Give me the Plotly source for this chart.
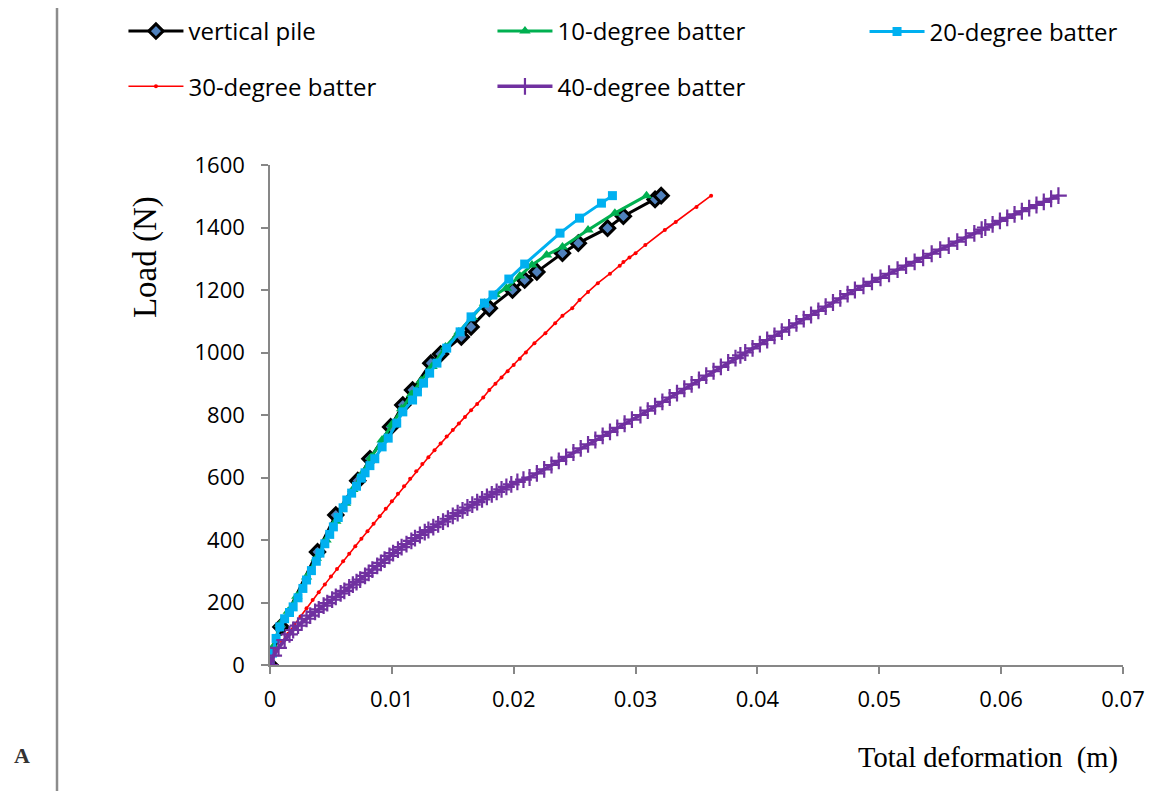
import plotly.graph_objects as go

# ---- data ----
vp_x = [0, 0.0009, 0.0039, 0.0054, 0.0072, 0.0082, 0.0099, 0.0109, 0.0117, 0.0132, 0.014, 0.0157,
        0.0165, 0.018, 0.0199, 0.0209, 0.0219, 0.024, 0.0253, 0.0277, 0.029, 0.0316, 0.0321]
vp_y = [0, 122, 362, 480, 590, 660, 762, 832, 880, 966, 995, 1050,
        1082, 1142, 1200, 1232, 1258, 1318, 1350, 1398, 1436, 1490, 1502]

b10_x = [0, 0.0003, 0.0008, 0.0015, 0.0022, 0.003, 0.0038, 0.0046, 0.0054, 0.0062, 0.0068, 0.0075,
         0.0083, 0.0092, 0.01, 0.0108, 0.0116, 0.0124, 0.0133, 0.0144, 0.0155, 0.0166, 0.0176, 0.0185,
         0.0194, 0.0205, 0.0215, 0.0227, 0.024, 0.0261, 0.0283, 0.0309]
b10_y = [0, 60, 130, 172, 220, 282, 342, 400, 460, 518, 562, 610,
         665, 720, 770, 820, 866, 910, 955, 1018, 1066, 1112, 1158, 1185,
         1206, 1245, 1280, 1312, 1338, 1392, 1446, 1502]

b20_x = [0, 0.0002, 0.0005, 0.0008, 0.0012, 0.0016, 0.0019, 0.0023, 0.0027, 0.003, 0.0034, 0.0038,
         0.0041, 0.0045, 0.0049, 0.0052, 0.0056, 0.006, 0.0063, 0.0067, 0.0071, 0.0075, 0.0078, 0.0082,
         0.0086, 0.0092, 0.0097, 0.0104, 0.0109, 0.0117, 0.0121, 0.0126, 0.0131, 0.0137, 0.0145, 0.0156,
         0.0165, 0.0176, 0.0183, 0.0196, 0.0209, 0.0238, 0.0254, 0.0272, 0.0281]
b20_y = [0, 38, 85, 122, 148, 168, 186, 215, 245, 272, 302, 332,
         358, 388, 418, 442, 472, 503, 528, 550, 572, 598, 615, 638,
         660, 698, 726, 774, 810, 848, 874, 902, 934, 966, 1014, 1066,
         1114, 1158, 1184, 1235, 1283, 1382, 1430, 1478, 1502]

b30_x = [0, 0.0005, 0.001, 0.0015, 0.002, 0.0025, 0.003, 0.0035, 0.004, 0.0045, 0.005, 0.0055,
         0.006, 0.0065, 0.007, 0.0075, 0.008, 0.0085, 0.009, 0.0095, 0.01, 0.0105, 0.011, 0.0115,
         0.012, 0.0125, 0.013, 0.0135, 0.014, 0.0145, 0.015, 0.0155, 0.016, 0.0165, 0.017, 0.0175,
         0.018, 0.0185, 0.019, 0.0195, 0.02, 0.0205, 0.021, 0.0217, 0.0226, 0.0234, 0.024, 0.0248,
         0.0254, 0.0261, 0.0269, 0.0279, 0.0287, 0.029, 0.0295, 0.03, 0.0308, 0.0324, 0.0333, 0.035, 0.0362]
b30_y = [0, 45, 75, 100, 128, 155, 182, 208, 233, 258, 283, 307,
         332, 356, 380, 404, 428, 452, 476, 500, 524, 548, 572, 596,
         620, 643, 665, 687, 709, 731, 752, 773, 794, 815, 835, 856,
         880, 900, 920, 940, 960, 980, 1000, 1030, 1062, 1094, 1118, 1142,
         1168, 1194, 1222, 1252, 1278, 1290, 1304, 1318, 1344, 1392, 1418, 1466, 1502]

b40_x = [0, 0.0003, 0.0007, 0.0012, 0.0016, 0.0019, 0.0023, 0.0026, 0.003, 0.0033, 0.0037, 0.004,
         0.0044, 0.0047, 0.0051, 0.0054, 0.0058, 0.0061, 0.0065, 0.0068, 0.0071, 0.0074, 0.0078, 0.0081,
         0.0084, 0.0088, 0.0091, 0.0094, 0.0098, 0.0101, 0.0105, 0.0108, 0.0112, 0.0116, 0.0119, 0.0123,
         0.0127, 0.013, 0.0134, 0.0138, 0.0142, 0.0146, 0.015, 0.0154, 0.0158, 0.0162, 0.0166, 0.017,
         0.0174, 0.0178, 0.0182, 0.0186, 0.019, 0.0194, 0.0198, 0.0203, 0.0208, 0.0213,
         0.0219, 0.0225, 0.0231, 0.0237, 0.0243, 0.0249, 0.0255, 0.0261, 0.0267, 0.0273, 0.0279, 0.0285,
         0.0291, 0.0297, 0.0304, 0.031, 0.0316, 0.0322, 0.0328, 0.0334, 0.034, 0.0346, 0.0352, 0.0358,
         0.0364, 0.037, 0.0376, 0.0382, 0.0386, 0.039, 0.0396, 0.0402, 0.0408, 0.0414, 0.042, 0.0426,
         0.0432, 0.0438, 0.0444, 0.045, 0.0456, 0.0462, 0.0468, 0.0474, 0.048, 0.0487, 0.0494, 0.0501,
         0.0508, 0.0515, 0.0522, 0.0529, 0.0536, 0.0543, 0.055, 0.0557, 0.0564, 0.0571, 0.0578, 0.0584,
         0.0587, 0.0593, 0.0599, 0.0605, 0.0611, 0.0617, 0.0623, 0.0629, 0.0635, 0.0641, 0.0647]
b40_y = [0, 30, 55, 80, 98, 112, 126, 136, 148, 158, 170, 178,
         190, 198, 209, 218, 229, 237, 248, 257, 265, 273, 285, 295,
         305, 317, 327, 337, 349, 358, 369, 377, 387, 397, 406, 416,
         425, 432, 441, 450, 459, 468, 477, 486, 495, 504, 513, 521,
         530, 538, 546, 554, 562, 570, 578, 586, 593, 600,
         613, 626, 640, 653, 666, 680, 693, 706, 720, 733, 746, 759,
         772, 785, 800, 814, 828, 842, 856, 870, 884, 898, 912, 926,
         940, 954, 968, 982, 991, 1000, 1013, 1027, 1040, 1053, 1067, 1080,
         1093, 1107, 1120, 1133, 1147, 1160, 1173, 1187, 1200, 1213, 1226, 1239,
         1252, 1265, 1278, 1290, 1303, 1316, 1329, 1342, 1355, 1368, 1381, 1393,
         1400, 1410, 1421, 1431, 1442, 1452, 1462, 1472, 1482, 1492, 1502]

x_ticks = [0, 0.01, 0.02, 0.03, 0.04, 0.05, 0.06, 0.07]
x_tick_text = ["0", "0.01", "0.02", "0.03", "0.04", "0.05", "0.06", "0.07"]
y_ticks = [0, 200, 400, 600, 800, 1000, 1200, 1400, 1600]

AX = "#878787"
TICKFONT = dict(family="Open Sans", size=22, color="#000000")

fig = go.Figure()
fig.add_trace(go.Scatter(x=vp_x, y=vp_y, name="vertical pile", mode="lines+markers",
                         line=dict(color="#000000", width=3),
                         marker=dict(symbol="diamond", size=11, color="#4F81BD",
                                     line=dict(color="#000000", width=3)),
                         legend="legend", legendgroup="g1"))
fig.add_trace(go.Scatter(x=b10_x, y=b10_y, name="10-degree batter", mode="lines+markers",
                         line=dict(color="#00B050", width=3),
                         marker=dict(symbol="triangle-up", size=10, color="#00B050"),
                         legend="legend2", legendgroup="g2"))
fig.add_trace(go.Scatter(x=b20_x, y=b20_y, name="20-degree batter", mode="lines+markers",
                         line=dict(color="#00B0F0", width=3),
                         marker=dict(symbol="square", size=9, color="#00B0F0"),
                         legend="legend3", legendgroup="g3"))
fig.add_trace(go.Scatter(x=b30_x, y=b30_y, name="30-degree batter", mode="lines+markers",
                         line=dict(color="#FF0000", width=1.6),
                         marker=dict(symbol="circle", size=4, color="#FF0000"),
                         legend="legend", legendgroup="g4"))
fig.add_trace(go.Scatter(x=b40_x, y=b40_y, name="40-degree batter", mode="lines+markers",
                         line=dict(color="#7030A0", width=3.5),
                         marker=dict(symbol="cross-thin-open", size=12, color="#7030A0",
                                     line=dict(color="#7030A0", width=2.2)),
                         legend="legend2", legendgroup="g5"))

legend_common = dict(orientation="v", xanchor="left", yanchor="middle",
                     font=dict(family="Open Sans", size=24, color="#000000"),
                     itemwidth=55, tracegroupgap=21,
                     bgcolor="rgba(0,0,0,0)", traceorder="grouped")

fig.update_layout(
    width=1172, height=791,
    margin=dict(l=262, r=57, t=157, b=134, autoexpand=False),
    paper_bgcolor="white", plot_bgcolor="white",
    showlegend=True,
    legend=dict(x=-0.1718, y=1.212, **legend_common),
    legend2=dict(x=0.2608, y=1.212, **legend_common),
    legend3=dict(x=0.697, y=1.266, **legend_common),
    xaxis=dict(range=[0, 0.07], tickvals=x_ticks, ticktext=x_tick_text,
               showgrid=False, zeroline=False, showline=True, linecolor=AX, linewidth=1.5,
               ticks="outside", ticklen=7, tickcolor=AX, tickwidth=1.5,
               tickfont=TICKFONT, ticklabelstandoff=7),
    yaxis=dict(range=[0, 1600], tickvals=y_ticks,
               showgrid=False, zeroline=False, showline=True, linecolor=AX, linewidth=1.5,
               ticks="outside", ticklen=7, tickcolor=AX, tickwidth=1.5,
               tickfont=TICKFONT, ticklabelstandoff=12),
)

fig.add_annotation(text="Load (N)", xref="paper", yref="paper", x=-0.1465, y=0.816,
                   xanchor="center", yanchor="middle", textangle=-90, showarrow=False,
                   font=dict(family="Liberation Serif", size=33, color="#000000"))
fig.add_annotation(text="Total deformation&nbsp; (m)", xref="paper", yref="paper", x=0.9965, y=-0.186,
                   xanchor="right", yanchor="middle", showarrow=False,
                   font=dict(family="Liberation Serif", size=28.5, color="#000000"))
fig.add_annotation(text="<b>A</b>", xref="paper", yref="paper", x=-0.2907, y=-0.18,
                   xanchor="center", yanchor="middle", showarrow=False,
                   font=dict(family="Liberation Serif", size=22, color="#333333"))
fig.add_shape(type="line", xref="paper", yref="paper", x0=-0.2497, x1=-0.2497, y0=-0.3, y1=1.4,
              line=dict(color="#8C8C8C", width=2.5))

fig.write_html("out.html")
